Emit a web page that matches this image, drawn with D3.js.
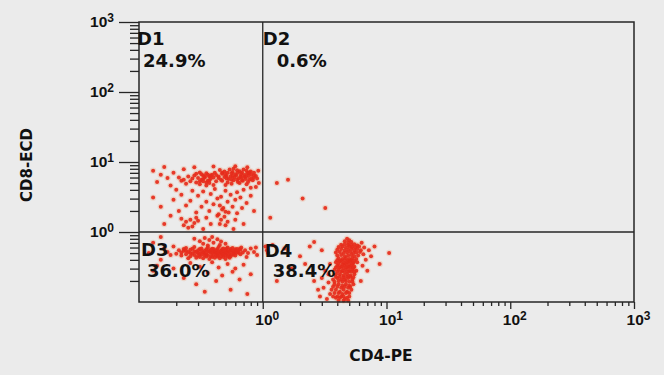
<!DOCTYPE html>
<html>
<head>
<meta charset="utf-8">
<script src="https://cdn.jsdelivr.net/npm/d3@7"></script>
<style>
  html, body { margin: 0; padding: 0; background: #ebebeb; }
  svg { display: block; font-family: "DejaVu Sans", sans-serif; font-weight: bold; }
</style>
</head>
<body>
<div id="chart"></div>
<script>
// Flow cytometry dot plot: CD4-PE vs CD8-ECD, quadrant gates D1..D4

const W = 664, H = 375;
const M = {top: 22, right: 30, bottom: 73, left: 139};

// axis setup
const AXIS_DOMAIN = [0.1, 1000];
const decadeTicks = [1, 10, 100, 1000];
const tickBase = "10";
const tickExps = ["0", "1", "2", "3"];
const xTitle = "CD4-PE";
const yTitle = "CD8-ECD";

// quadrant gate (threshold on both axes) and results
const gateCD4 = 1, gateCD8 = 1;
const gateNames = ["D1", "D2", "D3", "D4"];
const gatePercents = ["24.9%", "0.6%", "36.0%", "38.4%"];

// events, [CD4, CD8]
const d1Events = [
  [.45,7.7],[.49,7.3],[.54,7.8],[.58,8.0],[.65,7.4],[.70,7.8],[.78,7.1],[.85,7.0],[.62,7.6],[.74,7.5],
  [.47,7.0],[.52,7.0],[.57,7.2],[.63,7.0],[.68,7.1],[.75,6.9],[.80,7.3],
  [.42,6.5],[.47,6.8],[.51,6.3],[.56,6.9],[.61,6.4],[.67,6.7],[.73,6.2],[.81,6.6],[.88,6.3],[.77,6.9],
  [.44,6.2],[.50,6.6],[.55,6.2],[.60,6.7],[.66,6.2],[.71,6.5],[.77,6.3],[.85,6.4],
  [.44,5.9],[.49,6.1],[.53,5.7],[.59,6.0],[.64,5.8],[.71,6.1],[.78,5.6],[.84,5.9],[.68,5.5],[.57,6.3],
  [.46,5.6],[.51,5.8],[.56,5.6],[.62,5.6],[.67,6.0],[.73,5.7],[.81,5.8],
  [.47,5.4],[.52,5.1],[.58,5.5],[.63,5.2],[.69,5.4],[.76,5.2],[.83,5.5],[.90,5.8],
  [.56,4.9],[.65,5.0],[.74,4.8],[.50,4.7],
  [.29,6.8],[.31,7.1],[.33,6.4],[.35,6.9],[.37,6.2],[.39,6.6],[.41,7.0],
  [.32,6.7],[.34,6.2],[.36,6.6],[.38,6.4],[.31,5.3],[.33,5.7],[.35,5.1],[.37,5.5],
  [.30,5.9],[.32,5.6],[.34,6.0],[.36,5.4],[.38,5.8],[.40,6.0],
  [.29,5.1],[.31,4.8],[.33,5.3],[.35,4.6],[.37,5.0],[.40,4.7],[.42,5.3],
  [.21,6.0],[.23,5.6],[.25,6.2],[.26,5.3],[.27,5.8],[.24,4.9],[.22,5.4],[.28,6.4],
  [.15,6.6],[.17,5.9],[.14,5.2],[.19,7.0],[.18,4.6],[.13,7.5],[.16,8.5],[.23,7.9],
  [.28,8.4],[.40,8.6],[.60,8.7],[.75,8.4],[.92,7.5],[.93,5.0],[.88,4.4],[.80,4.3],
  [.20,4.0],[.27,3.9],[.33,3.8],[.41,4.1],[.50,3.9],[.62,3.7],[.70,4.0],
  [.22,3.4],[.30,3.3],[.38,3.5],[.46,3.2],[.55,3.4],[.66,3.1],[.80,3.3],
  [.19,2.9],[.26,2.8],[.35,2.7],[.43,3.0],[.52,2.7],[.60,2.9],[.74,2.6],
  [.24,2.4],[.32,2.3],[.40,2.5],[.48,2.2],[.45,2.4],[.57,2.3],[.68,2.2],
  [.21,2.0],[.29,1.9],[.37,2.0],[.44,1.8],[.50,1.95],[.62,1.85],[.85,2.0],
  [.22,1.55],[.24,1.4],[.26,1.5],[.28,1.35],[.30,1.45],[.23,1.25],[.27,1.2],[.25,1.15],[.29,1.6],
  [.43,1.7],[.46,1.5],[.49,1.65],[.52,1.4],[.45,1.3],[.50,1.25],[.47,2.1],[.53,1.9],
  [.35,1.6],[.38,1.3],[.60,1.5],[.70,1.3],[.18,1.7],[.15,2.3],[.13,3.1],[.16,1.3],[.33,1.1],[.58,1.1]
];

const d2Events = [[1.3,5.0],[1.6,5.6],[2.1,3.0],[1.15,1.6],[3.2,2.2]];

const d3Events = [
  [.28,.80],[.31,.74],[.34,.82],[.37,.77],[.40,.70],[.43,.79],[.46,.73],[.50,.68],[.33,.68],[.39,.85],[.45,.65],[.36,.64],
  [.24,.59],[.28,.61],[.32,.58],[.36,.60],[.40,.57],[.44,.61],[.48,.58],[.52,.60],[.57,.59],[.62,.57],[.67,.60],
  [.23,.57],[.27,.575],[.31,.57],[.35,.565],[.39,.575],[.43,.57],[.47,.565],[.51,.575],[.55,.57],[.60,.565],[.65,.57],
  [.21,.55],[.23,.54],[.26,.56],[.30,.55],[.34,.54],[.38,.56],[.42,.55],[.46,.54],[.50,.56],[.55,.55],[.60,.54],[.66,.56],
  [.24,.535],[.28,.53],[.32,.535],[.36,.53],[.40,.535],[.44,.53],[.48,.535],[.52,.53],[.57,.535],[.62,.53],
  [.22,.51],[.25,.52],[.29,.52],[.33,.51],[.37,.53],[.41,.52],[.45,.51],[.49,.52],[.53,.53],[.58,.51],[.63,.52],[.69,.51],
  [.26,.50],[.30,.505],[.34,.50],[.38,.505],[.42,.50],[.46,.505],[.50,.50],[.54,.505],[.59,.50],[.64,.505],
  [.20,.49],[.24,.48],[.27,.49],[.31,.49],[.35,.48],[.39,.50],[.43,.49],[.47,.48],[.51,.49],[.56,.48],[.61,.50],[.66,.48],
  [.28,.47],[.32,.475],[.36,.47],[.40,.475],[.44,.47],[.48,.475],[.53,.47],[.58,.475],
  [.22,.46],[.26,.45],[.30,.46],[.34,.46],[.38,.45],[.42,.46],[.46,.45],[.50,.46],[.55,.45],[.60,.46],
  [.31,.44],[.35,.445],[.39,.44],[.43,.445],[.48,.44],[.52,.445],
  [.25,.42],[.29,.43],[.33,.42],[.37,.41],[.41,.43],[.45,.42],[.50,.41],[.54,.43],
  [.72,.55],[.76,.50],[.80,.58],[.85,.52],[.90,.47],[.74,.44],[.88,.60],
  [.17,.52],[.18,.47],[.16,.58],[.19,.62],
  [.14,.33],[.19,.30],[.26,.36],[.31,.32],[.39,.37],[.44,.31],[.52,.35],[.60,.30],[.70,.34],[.36,.26],[.47,.24],
  [.57,.27],[.23,.22],[.29,.18],[.42,.20],[.65,.21],[.80,.25],[.55,.15],[.34,.14],[.75,.13],[.15,.40],[.13,.28],
  [.13,.70],[.15,.85],[.12,.50]
];

const d4Events = [
  [4.8,.80],[5.0,.76],[4.6,.74],[5.2,.72],[4.9,.70],
  [4.3,.66],[4.6,.67],[4.9,.65],[5.2,.66],[5.5,.67],[5.8,.64],
  [4.1,.61],[4.4,.62],[4.7,.60],[5.0,.62],[5.3,.61],[5.6,.60],[6.0,.62],
  [4.0,.56],[4.3,.57],[4.6,.55],[4.9,.56],[5.2,.57],[5.5,.55],[5.8,.57],[6.2,.55],
  [3.9,.51],[4.2,.52],[4.5,.50],[4.8,.51],[5.1,.52],[5.4,.50],[5.7,.51],[6.1,.52],
  [4.0,.46],[4.3,.47],[4.6,.45],[4.9,.46],[5.2,.47],[5.5,.45],[5.9,.46],
  [4.1,.42],[4.4,.41],[4.7,.42],[5.0,.41],[5.3,.42],[5.7,.41],
  [4.0,.395],[4.3,.39],[4.6,.395],[4.9,.39],[5.2,.395],[5.5,.39],
  [3.9,.37],[4.2,.38],[4.5,.36],[4.8,.37],[5.1,.38],[5.4,.36],[5.8,.37],
  [4.1,.35],[4.4,.345],[4.7,.35],[5.0,.345],[5.3,.35],
  [4.0,.33],[4.3,.32],[4.6,.33],[4.9,.32],[5.2,.33],[5.5,.32],
  [3.9,.31],[4.2,.31],[4.5,.305],[4.8,.31],[5.1,.31],[5.4,.305],
  [3.8,.29],[4.1,.29],[4.4,.28],[4.7,.29],[5.0,.28],[5.3,.29],[5.7,.28],
  [4.0,.27],[4.3,.27],[4.6,.265],[4.9,.27],[5.2,.27],[5.5,.27],
  [3.9,.25],[4.2,.25],[4.5,.24],[4.8,.25],[5.1,.24],[5.5,.25],
  [3.9,.23],[4.2,.23],[4.5,.225],[4.8,.23],[5.1,.23],[5.4,.225],
  [3.7,.21],[4.0,.22],[4.3,.21],[4.6,.21],[4.9,.22],[5.3,.21],
  [3.8,.195],[4.1,.2],[4.4,.195],[4.7,.2],[5.0,.195],[5.3,.195],
  [3.8,.18],[4.1,.18],[4.4,.17],[4.7,.18],[5.0,.17],[5.4,.18],
  [3.7,.165],[4.0,.165],[4.3,.16],[4.6,.165],[4.9,.16],[5.1,.165],
  [3.6,.15],[3.9,.15],[4.2,.14],[4.5,.15],[4.8,.14],[5.2,.15],
  [3.8,.135],[4.1,.135],[4.4,.13],[4.7,.135],[5.0,.135],
  [3.7,.12],[4.0,.12],[4.3,.12],[4.6,.11],[5.0,.12],
  [3.9,.115],[4.2,.115],[4.5,.12],[4.8,.115],
  [4.1,.105],[4.5,.105],[4.9,.105],
  [3.2,.28],[3.0,.22],[3.4,.19],[3.1,.16],[3.5,.13],[3.3,.11],[2.9,.12],[3.4,.25],[2.6,.20],[2.8,.15],[3.5,.35],
  [6.5,.48],[6.8,.40],[6.6,.60],[7.2,.55],[6.4,.33],[7.0,.28],[6.3,.70],[7.5,.45],[6.2,.20],[8.0,.62],
  [1.2,.65],[1.1,.5],[1.5,.58],[2.0,.45],[2.4,.62],[1.7,.30],[2.2,.35],[2.6,.72],[3.0,.55],[1.3,.20],
  [8.8,.35],[10.5,.5],[1.05,.62],[1.08,.55]
];

// layout of gate labels relative to each quadrant's top-left corner
const LABEL_POS = [
  {dx: -2, dy: 23, pdx: 4, pdy: 45},
  {dx: 0, dy: 23, pdx: 14, pdy: 45},
  {dx: 2, dy: 24, pdx: 8, pdy: 45},
  {dx: 2, dy: 25, pdx: 10, pdy: 45}
];

const innerW = W - M.left - M.right;
const innerH = H - M.top - M.bottom;

const svg = d3.select("#chart").append("svg")
  .attr("width", W).attr("height", H)
  .attr("viewBox", `0 0 ${W} ${H}`);
const g = svg.append("g").attr("transform", `translate(${M.left},${M.top})`);

const x = d3.scaleLog().domain(AXIS_DOMAIN).range([0, innerW]);
const y = d3.scaleLog().domain(AXIS_DOMAIN).range([innerH, 0]);

// minor ticks 2..9 in each decade
const minorTicks = x.ticks().filter(v => !decadeTicks.includes(v) && v !== AXIS_DOMAIN[0] && v < AXIS_DOMAIN[1]);

const INK = "#262626";

function styleAxis(sel) {
  sel.select(".domain").remove();
  sel.selectAll(".tick line").attr("stroke", INK).attr("stroke-width", 1.3);
}

// y axis
g.append("g").call(d3.axisLeft(y).tickValues(minorTicks).tickSize(9).tickFormat("")).call(styleAxis);
const yMaj = g.append("g").call(d3.axisLeft(y).tickValues(decadeTicks).tickSize(20).tickFormat("")).call(styleAxis);
yMaj.selectAll(".tick").each(function(d, i) {
  const t = d3.select(this).append("text")
    .attr("x", -25).attr("dy", "0.3em")
    .attr("text-anchor", "end").attr("fill", "#111").attr("font-size", 15.5);
  t.append("tspan").text(tickBase);
  t.append("tspan").attr("font-size", 12).attr("dy", -5).text(tickExps[i]);
});

// x axis
g.append("g").attr("transform", `translate(0,${innerH})`)
  .call(d3.axisBottom(x).tickValues(minorTicks).tickSize(4).tickFormat("")).call(styleAxis);
const xMaj = g.append("g").attr("transform", `translate(0,${innerH})`)
  .call(d3.axisBottom(x).tickValues(decadeTicks).tickSize(7).tickFormat("")).call(styleAxis);
xMaj.selectAll(".tick").each(function(d, i) {
  const t = d3.select(this).append("text")
    .attr("y", 23).attr("x", 4)
    .attr("text-anchor", "middle").attr("fill", "#111").attr("font-size", 15.5);
  t.append("tspan").text(tickBase);
  t.append("tspan").attr("font-size", 12).attr("dy", -5).text(tickExps[i]);
});

// events
const populations = [d1Events, d2Events, d3Events, d4Events];
const allEvents = populations.flat();
const dots = g.append("g");
dots.selectAll("circle.halo").data(allEvents).join("circle")
  .attr("class", "halo")
  .attr("cx", d => x(d[0])).attr("cy", d => y(d[1]))
  .attr("r", 3.2).attr("fill", "#f0a27a").attr("opacity", 0.3);
dots.selectAll("circle.ev").data(allEvents).join("circle")
  .attr("class", "ev")
  .attr("cx", d => x(d[0])).attr("cy", d => y(d[1]))
  .attr("r", 2).attr("fill", "#e62b1b").attr("opacity", 0.92);

// frame and quadrant lines
g.append("rect").attr("width", innerW).attr("height", innerH)
  .attr("fill", "none").attr("stroke", INK).attr("stroke-width", 1.5);
g.append("line").attr("x1", x(gateCD4)).attr("x2", x(gateCD4)).attr("y1", 0).attr("y2", innerH)
  .attr("stroke", INK).attr("stroke-width", 1.3);
g.append("line").attr("x1", 0).attr("x2", innerW).attr("y1", y(gateCD8)).attr("y2", y(gateCD8))
  .attr("stroke", INK).attr("stroke-width", 1.3);

// gate labels
const corners = [
  [x(AXIS_DOMAIN[0]), y(AXIS_DOMAIN[1])],
  [x(gateCD4), y(AXIS_DOMAIN[1])],
  [x(AXIS_DOMAIN[0]), y(gateCD8)],
  [x(gateCD4), y(gateCD8)]
];
gateNames.forEach((name, i) => {
  const [cx, cy] = corners[i], p = LABEL_POS[i];
  g.append("text").attr("x", cx + p.dx).attr("y", cy + p.dy)
    .attr("font-size", 18).attr("fill", "#111").text(name);
  g.append("text").attr("x", cx + p.pdx).attr("y", cy + p.pdy)
    .attr("font-size", 18).attr("fill", "#111").text(gatePercents[i]);
});

// axis titles
svg.append("text").attr("x", 381).attr("y", 361).attr("text-anchor", "middle")
  .attr("font-size", 15.5).attr("fill", "#111").text(xTitle);
svg.append("text").attr("transform", "translate(32,165) rotate(-90)").attr("text-anchor", "middle")
  .attr("font-size", 15).attr("fill", "#111").text(yTitle);
</script>
</body>
</html>
